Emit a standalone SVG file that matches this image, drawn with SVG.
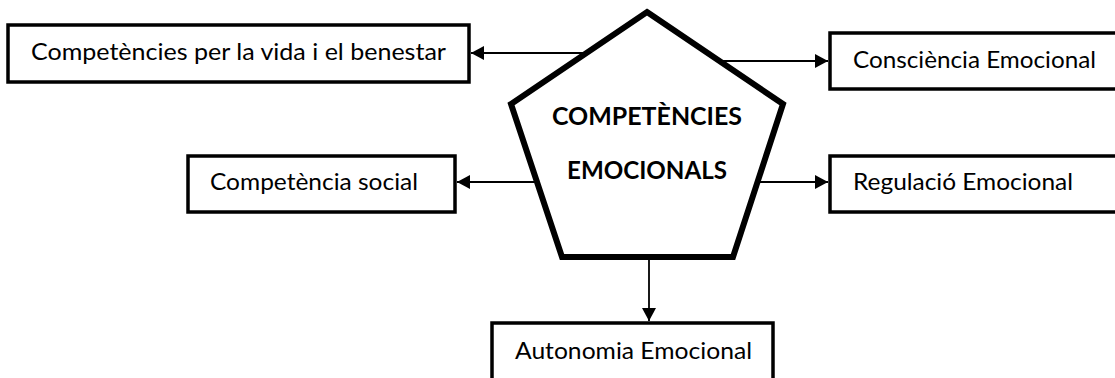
<svg xmlns="http://www.w3.org/2000/svg" width="1115" height="378" viewBox="0 0 1115 378">
  <defs>
    <marker id="arrow" viewBox="0 0 13 14" refX="13" refY="7" markerWidth="13" markerHeight="14" markerUnits="userSpaceOnUse" orient="auto">
      <path d="M0,0 L13,7 L0,14 Z" fill="#000"/>
    </marker>
    <style>
      .box { fill: #fff; stroke: #000; stroke-width: 3.5; }
      .hub { fill: #fff; stroke: #000; stroke-width: 6; stroke-linejoin: miter; }
      .label { font-family: Lato, "Liberation Sans", sans-serif; font-size: 24px; fill: #000; }
      .hub-label { font-family: Lato, "Liberation Sans", sans-serif; font-size: 24px; font-weight: bold; fill: #000; text-anchor: middle; }
      .link { fill: none; stroke: #000; stroke-width: 1.8; marker-end: url(#arrow); }
    </style>
  </defs>
  <rect width="1115" height="378" fill="#fff"/>

  <!-- connectors from the central pentagon out to each box -->
  <g id="connectors">
    <line class="link" x1="586" y1="53" x2="471" y2="53"/>
    <line class="link" x1="719" y1="61" x2="828" y2="61"/>
    <line class="link" x1="537" y1="182" x2="457" y2="182"/>
    <line class="link" x1="758" y1="182" x2="828" y2="182"/>
    <line class="link" x1="649" y1="260" x2="649" y2="321"/>
  </g>

  <g id="hub">
    <polygon class="hub" points="647,12 783,104 733,257 562,257 511,104"/>
    <text class="hub-label" x="647" y="125" textLength="190" lengthAdjust="spacingAndGlyphs">COMPETÈNCIES</text>
    <text class="hub-label" x="647" y="179" textLength="160" lengthAdjust="spacingAndGlyphs">EMOCIONALS</text>
  </g>

  <g id="vida-benestar">
    <rect class="box" x="8" y="25" width="461" height="57"/>
    <text class="label" x="31" y="60" textLength="415" lengthAdjust="spacingAndGlyphs">Competències per la vida i el benestar</text>
  </g>

  <g id="consciencia">
    <rect class="box" x="830" y="33" width="300" height="56"/>
    <text class="label" x="853" y="68" textLength="243" lengthAdjust="spacingAndGlyphs">Consciència Emocional</text>
  </g>

  <g id="social">
    <rect class="box" x="188" y="156" width="267" height="56"/>
    <text class="label" x="210" y="190" textLength="208" lengthAdjust="spacingAndGlyphs">Competència social</text>
  </g>

  <g id="regulacio">
    <rect class="box" x="830" y="156" width="300" height="56"/>
    <text class="label" x="853" y="190" textLength="220" lengthAdjust="spacingAndGlyphs">Regulació Emocional</text>
  </g>

  <g id="autonomia">
    <rect class="box" x="492" y="323" width="281" height="80"/>
    <text class="label" x="515" y="359" textLength="237" lengthAdjust="spacingAndGlyphs">Autonomia Emocional</text>
  </g>
</svg>
